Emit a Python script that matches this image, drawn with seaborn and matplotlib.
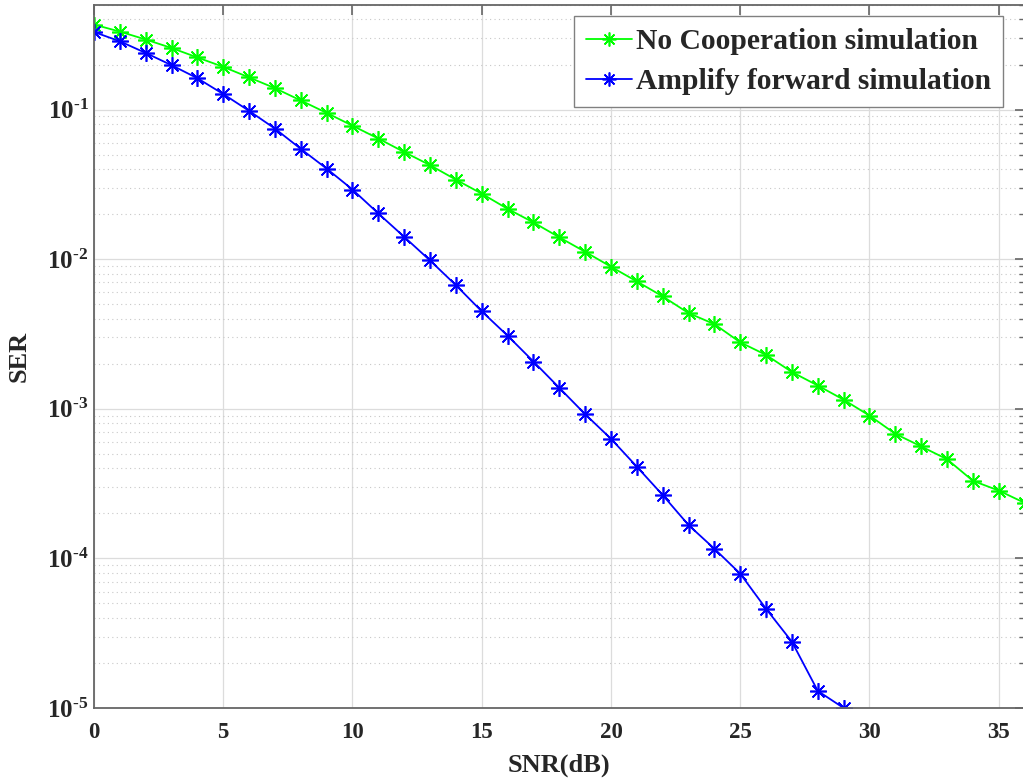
import matplotlib
import numpy as np
import pandas as pd
import seaborn as sns

matplotlib.use("Agg")
import matplotlib.pyplot as plt
from matplotlib.ticker import FixedLocator, LogLocator, NullFormatter

SNR_NO_COOP = list(range(0, 37))
SER_NO_COOP = [
    0.37, 0.332, 0.294, 0.258, 0.223, 0.193, 0.164, 0.139, 0.115, 0.095,
    0.078, 0.064, 0.052, 0.0425, 0.034, 0.0274, 0.0217, 0.0176, 0.0140, 0.0112,
    0.0089, 0.0071, 0.00564, 0.00436, 0.00368, 0.00278, 0.00229, 0.00176, 0.00143, 0.00115,
    0.00090, 0.00068, 0.00056, 0.00046, 0.00033, 0.000284, 0.000235,
]

SNR_AF = list(range(0, 30))
SER_AF = [
    0.33, 0.286, 0.239, 0.198, 0.162, 0.127, 0.098, 0.0746, 0.0546, 0.0403,
    0.0292, 0.0202, 0.0141, 0.0098, 0.0067, 0.00448, 0.00308, 0.00207, 0.00138, 0.00092,
    0.00063, 0.00041, 0.000265, 0.000167, 0.000116, 7.9e-5, 4.6e-5, 2.77e-5, 1.30e-5, 1.0e-5,
]

LABELS = ["No Cooperation simulation", "Amplify forward simulation"]
COLORS = ["#00ff00", "#0000ff"]
Y_TICKS = [1e-5, 1e-4, 1e-3, 1e-2, 1e-1]
Y_TICK_LABELS = ["$10^{\u20105}$", "$10^{\u20104}$", "$10^{\u20103}$", "$10^{\u20102}$", "$10^{\u20101}$"]

sns.set_theme(style="white")
plt.rcParams.update(
    {
        "font.family": ["Liberation Serif", "DejaVu Serif"],
        "font.weight": "bold",
        "mathtext.fontset": "custom",
        "mathtext.rm": "Liberation Serif:bold",
        "mathtext.it": "Liberation Serif:bold",
        "mathtext.bf": "Liberation Serif:bold",
        "axes.edgecolor": "#666666",
        "xtick.color": "#666666",
        "ytick.color": "#666666",
        "xtick.labelcolor": "#262626",
        "ytick.labelcolor": "#262626",
    }
)

curves = [
    pd.DataFrame({"SNR": SNR_NO_COOP, "SER": SER_NO_COOP}),
    pd.DataFrame({"SNR": SNR_AF, "SER": SER_AF}),
]

fig = plt.figure(figsize=(10.23, 7.84), dpi=100)
ax = fig.add_axes([94 / 1023, 1 - 708 / 784, (1024.6 - 94) / 1023, (708 - 5) / 784])

for data, label, color in zip(curves, LABELS, COLORS):
    sns.lineplot(
        data=data,
        x="SNR",
        y="SER",
        color=color,
        label=label,
        marker=(8, 2, 0),
        markersize=12,
        markeredgecolor=color,
        markeredgewidth=1.2,
        linewidth=1.3,
        ax=ax,
    )

ax.set_yscale("log")
ax.set_xlim(0, 36)
ax.set_ylim(1e-5, 0.5)

ax.xaxis.set_major_locator(FixedLocator([0, 5, 10, 15, 20, 25, 30, 35]))
ax.yaxis.set_major_locator(FixedLocator(Y_TICKS))
ax.set_yticklabels(Y_TICK_LABELS)
ax.yaxis.set_minor_locator(LogLocator(base=10, subs=np.arange(2, 10)))
ax.yaxis.set_minor_formatter(NullFormatter())

ax.tick_params(axis="both", which="major", direction="in", length=7, width=1.2,
               top=True, right=True)
ax.tick_params(axis="x", which="major", pad=10, labelsize=16.5)
ax.tick_params(axis="y", which="major", pad=4, labelsize=18)
ax.tick_params(axis="y", which="minor", direction="in", length=4, width=1.0, right=True)

ax.grid(True, which="major", color="#dcdcdc", linestyle="-", linewidth=0.9)
ax.grid(True, which="minor", axis="y", color="#c8c8c8", linestyle=(0, (1, 3)), linewidth=0.8)
for spine in ax.spines.values():
    spine.set_linewidth(1.3)

ax.set_xlabel("SNR(dB)", fontsize=19, fontweight="bold", labelpad=8)
ax.set_ylabel("SER", fontsize=19, fontweight="bold", labelpad=12)

leg = ax.legend(
    loc="upper right",
    bbox_to_anchor=(0.977, 0.984),
    prop={"weight": "bold", "size": 21.3},
    handlelength=1.55,
    handletextpad=0.15,
    borderpad=0.4,
    labelspacing=0.45,
    borderaxespad=0,
    fancybox=False,
    framealpha=1,
    edgecolor="#808080",
)
leg.get_frame().set_linewidth(1.0)
for h in leg.legend_handles:
    h.set_markersize(10)

fig.savefig("out.png", dpi=100)
